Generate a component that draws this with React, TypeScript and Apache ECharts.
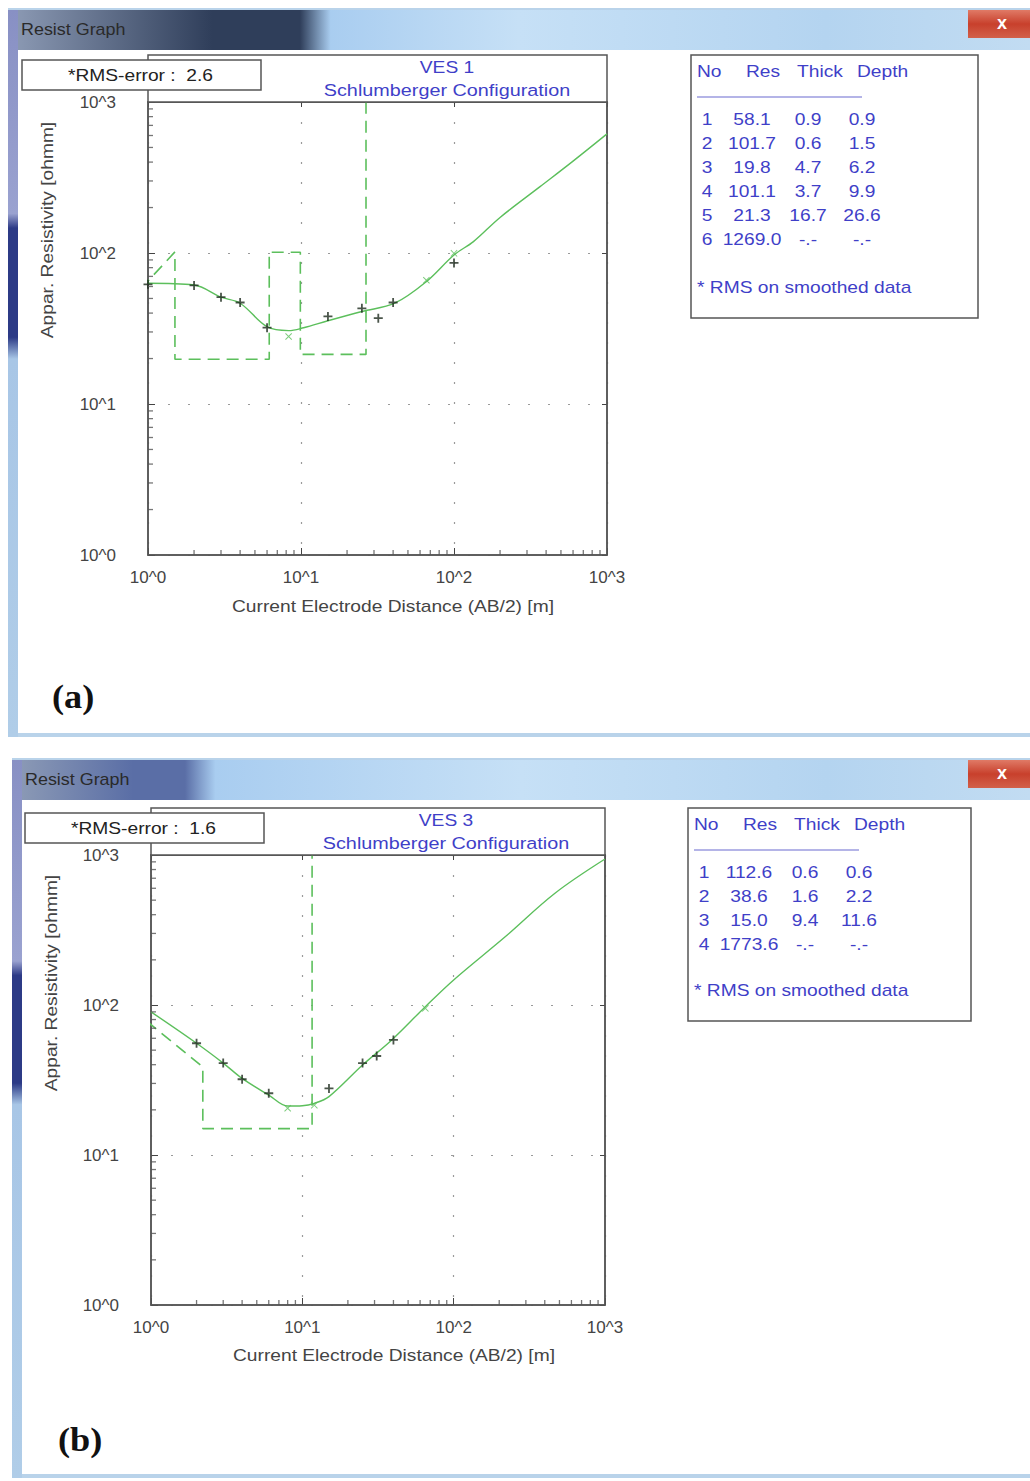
import React, { useEffect, useRef } from 'react';
import * as echarts from 'echarts';

// ---------- data ----------
const decadeLabels = ['10^0', '10^1', '10^2', '10^3'];

// VES 1 (a)
const fieldAx = [1, 2, 3, 4, 6, 15, 25, 32, 40, 100];
const fieldAy = [62, 61, 51, 47, 32, 38, 43, 37, 47, 86];
const calcAx = [1, 2, 3, 4, 6, 8.3, 10.4, 15, 25, 41, 66, 100, 134, 200, 365, 600, 1000];
const calcAy = [63, 61.4, 51, 46.5, 32.5, 30.6, 32, 35.6, 41, 46.5, 64.6, 97, 119, 172, 275, 406, 615];
const smoothAx = [8.3, 66, 100];
const smoothAy = [28, 66, 99.5];
const layerNoA = ['1', '2', '3', '4', '5', '6'];
const resA = [58.1, 101.7, 19.8, 101.1, 21.3, 1269.0];
const thickA = ['0.9', '0.6', '4.7', '3.7', '16.7', '-.-'];
const depthLabA = ['0.9', '1.5', '6.2', '9.9', '26.6', '-.-'];
const depthA = [0.9, 1.5, 6.2, 9.9, 26.6];

// VES 3 (b)
const fieldBx = [2, 3, 4, 6, 15, 25, 31, 40];
const fieldBy = [55.6, 41, 32, 25.8, 27.8, 41, 45.7, 58.5];
const calcBx = [1, 2, 3, 4, 6, 8, 10, 12, 15, 25, 39, 65, 100, 219, 467, 1000];
const calcBy = [90, 55.6, 41, 32.4, 25.1, 21.2, 21.3, 22.1, 24.5, 39.8, 58.5, 97.5, 147, 285, 556, 940];
const smoothBx = [8, 12, 65];
const smoothBy = [20.5, 21.5, 95];
const layerNoB = ['1', '2', '3', '4'];
const resB = [112.6, 38.6, 15.0, 1773.6];
const thickB = ['0.6', '1.6', '9.4', '-.-'];
const depthLabB = ['0.6', '2.2', '11.6', '-.-'];
const depthB = [0.6, 2.2, 11.6];

const FONT = '"Liberation Sans", Arial, sans-serif';
const GREEN = '#5cbf5c';
const BLUE = '#3f3fc8';
const PLUS = 'path://M4 0H6V4H10V6H6V10H4V6H0V4H4Z';
const XMARK = 'path://M0 1L1 0L5 4L9 0L10 1L6 5L10 9L9 10L5 6L1 10L0 9L4 5Z';

function zip(xs: number[], ys: number[]) {
  return xs.map((x, i) => [x, ys[i]]);
}

function buildModel(res: number[], depth: number[]) {
  const pts: number[][] = [[depth[0], res[0]]];
  for (let i = 1; i < depth.length; i++) {
    pts.push([depth[i], res[i]]);
    pts.push([depth[i], res[i + 1]]);
  }
  return pts;
}

const minorVals: number[] = [];
for (const base of [1, 10, 100]) for (let k = 2; k <= 9; k++) minorVals.push(k * base);

function txt(text: string, x: number, y: number, opts: any = {}) {
  return {
    type: 'text',
    x,
    y,
    z: opts.z ?? 20,
    rotation: opts.rotation ?? 0,
    scaleX: opts.scaleX ?? 1.2,
    silent: true,
    style: {
      text,
      fill: opts.fill ?? '#333',
      fontSize: opts.fontSize ?? 16,
      fontFamily: opts.fontFamily ?? FONT,
      fontWeight: opts.fontWeight ?? 'normal',
      align: opts.align ?? 'left',
      verticalAlign: 'middle',
    },
  };
}

function rect(x: number, y: number, w: number, h: number, style: any, z = 10) {
  return { type: 'rect', shape: { x, y, width: w, height: h }, style, z, silent: true };
}

function windowChrome(x0: number, y0: number, x1: number, y1: number, darkEnd: number, darkColor: string) {
  const els: any[] = [];
  els.push(rect(x0, y0, x1 - x0, y1 - y0, { fill: '#b9d3ea' }, -20));
  els.push(
    rect(x0, y0 + 2, x1 - x0, 40, {
      fill: new echarts.graphic.LinearGradient(0, 0, 1, 0, [
        { offset: 0, color: '#8e9cb6' },
        { offset: (darkEnd - x0) / (x1 - x0) * 0.7, color: darkColor },
        { offset: (darkEnd - x0) / (x1 - x0), color: darkColor },
        { offset: (darkEnd - x0) / (x1 - x0) + 0.03, color: '#a9cdf0' },
        { offset: 0.5, color: '#c6e0f6' },
        { offset: 0.8, color: '#b4d4f0' },
        { offset: 1, color: '#c2dcf2' },
      ]),
    }, -19)
  );
  els.push(
    rect(x0, y0 + 2, 10, y1 - y0 - 2, {
      fill: new echarts.graphic.LinearGradient(0, 0, 0, 1, [
        { offset: 0, color: '#8890c4' },
        { offset: 0.28, color: '#9aa2d0' },
        { offset: 0.3, color: '#2c3a86' },
        { offset: 0.45, color: '#2c3a86' },
        { offset: 0.48, color: '#a8c6e6' },
        { offset: 1, color: '#b0cde8' },
      ]),
    }, -18)
  );
  els.push(rect(x0 + 10, y0 + 42, x1 - x0 - 10, y1 - y0 - 46, { fill: '#ffffff' }, -17));
  els.push(
    rect(x1 - 62, y0 + 2, 62, 28, {
      fill: new echarts.graphic.LinearGradient(0, 0, 0, 1, [
        { offset: 0, color: '#e07a66' },
        { offset: 0.5, color: '#c8402c' },
        { offset: 1, color: '#d2604a' },
      ]),
    }, -16)
  );
  els.push(txt('x', x1 - 28, y0 + 15, { fill: '#ffffff', fontSize: 18, fontWeight: 'bold', align: 'center', z: -15, scaleX: 1 }));
  els.push(txt('Resist Graph', x0 + 13, y0 + 22, { fill: '#2a2a2a', fontSize: 16, z: -15, scaleX: 1.12 }));
  return els;
}

function panelText(o: any) {
  const els: any[] = [];
  els.push(rect(o.left, o.headTop, o.right - o.left, o.plotTop - o.headTop, { fill: '#ffffff', stroke: '#555', lineWidth: 1.5 }, 5));
  els.push(txt(o.ves, o.headCx, o.plotTop - 34, { fill: BLUE, align: 'center' }));
  els.push(txt('Schlumberger Configuration', o.headCx, o.plotTop - 11, { fill: BLUE, align: 'center', fontSize: 16.5 }));
  els.push(rect(o.rmsX, o.rmsY, 239, 30, { fill: '#ffffff', stroke: '#555', lineWidth: 1.5 }, 30));
  els.push(txt('*RMS-error :  ' + o.rms, o.rmsX + 46, o.rmsY + 16, { fill: '#222', z: 31 }));
  els.push(txt('Appar. Resistivity [ohmm]', o.yNameX, o.yNameY, { align: 'center', rotation: Math.PI / 2, fill: '#444' }));
  els.push(txt('Current Electrode Distance (AB/2) [m]', o.xNameX, o.xNameY, { align: 'center', fill: '#444' }));
  els.push(txt(o.letter, o.letterX, o.letterY, { fontFamily: '"Liberation Serif", "DejaVu Serif", serif', fontWeight: 'bold', fontSize: 33, fill: '#111', scaleX: 1.1 }));
  const t = o.table;
  els.push(rect(t.x, t.y, t.w, t.h, { fill: '#ffffff', stroke: '#555', lineWidth: 1.5 }, 5));
  els.push(txt('No', t.x + 6, t.y + 17, { fill: BLUE }));
  els.push(txt('Res', t.x + 55, t.y + 17, { fill: BLUE }));
  els.push(txt('Thick', t.x + 106, t.y + 17, { fill: BLUE }));
  els.push(txt('Depth', t.x + 166, t.y + 17, { fill: BLUE }));
  els.push({ type: 'line', shape: { x1: t.x + 6, y1: t.y + 42, x2: t.x + 171, y2: t.y + 42 }, style: { stroke: '#6a6ad0', lineWidth: 1.2 }, z: 20, silent: true });
  t.no.forEach((n: string, i: number) => {
    const y = t.y + 65 + i * 24;
    els.push(txt(n, t.x + 16, y, { fill: BLUE, align: 'center' }));
    els.push(txt(t.res[i].toFixed(1), t.x + 61, y, { fill: BLUE, align: 'center' }));
    els.push(txt(t.thick[i], t.x + 117, y, { fill: BLUE, align: 'center' }));
    els.push(txt(t.depth[i], t.x + 171, y, { fill: BLUE, align: 'center' }));
  });
  els.push(txt('* RMS on smoothed data', t.x + 6, t.noteY, { fill: BLUE }));
  return els;
}

function axisPair(gridIndex: number) {
  const fmt = (v: number) => decadeLabels[Math.round(Math.log10(v))] ?? '';
  const split = { show: true, lineStyle: { color: '#9a9a9a', type: [2, 18], width: 1.2 } };
  const x = [
    {
      type: 'log', logBase: 10, min: 1, max: 1000, gridIndex,
      axisLine: { show: true, lineStyle: { color: '#555', width: 1.5 } },
      axisTick: { show: true, inside: true, length: 7, lineStyle: { color: '#444' } },
      axisLabel: { formatter: fmt, fontSize: 17, color: '#444', fontFamily: FONT, margin: 14, showMinLabel: true, showMaxLabel: true },
      splitLine: split,
    },
    {
      type: 'log', logBase: 10, min: 1, max: 1000, gridIndex, position: 'top',
      axisLine: { show: true, lineStyle: { color: '#555', width: 1.5 } },
      axisTick: { show: true, inside: true, length: 5, lineStyle: { color: '#444' } },
      axisLabel: { show: false }, splitLine: { show: false },
    },
  ];
  const y = [
    {
      type: 'log', logBase: 10, min: 1, max: 1000, gridIndex,
      axisLine: { show: true, lineStyle: { color: '#555', width: 1.5 } },
      axisTick: { show: true, inside: true, length: 7, lineStyle: { color: '#444' } },
      axisLabel: { formatter: fmt, fontSize: 17, color: '#444', fontFamily: FONT, margin: 32, showMinLabel: true, showMaxLabel: true },
      splitLine: split,
    },
    {
      type: 'log', logBase: 10, min: 1, max: 1000, gridIndex, position: 'right',
      axisLine: { show: true, lineStyle: { color: '#555', width: 1.5 } },
      axisTick: { show: true, inside: true, length: 5, lineStyle: { color: '#444' } },
      axisLabel: { show: false }, splitLine: { show: false },
    },
  ];
  return { x, y };
}

function seriesFor(ax: number, calc: number[][], field: number[][], smooth: number[][], model: number[][]) {
  return [
    {
      type: 'line', xAxisIndex: ax, yAxisIndex: ax, data: model, showSymbol: false, clip: true,
      lineStyle: { color: GREEN, width: 1.6, type: [12, 7] }, z: 3, silent: true,
    },
    {
      type: 'line', xAxisIndex: ax, yAxisIndex: ax, data: calc, showSymbol: false, smooth: 0.35, clip: true,
      lineStyle: { color: GREEN, width: 1.4 }, z: 4, silent: true,
    },
    {
      type: 'scatter', xAxisIndex: ax, yAxisIndex: ax, data: smooth, symbol: XMARK, symbolSize: 7,
      itemStyle: { color: GREEN }, z: 5, silent: true,
    },
    {
      type: 'scatter', xAxisIndex: ax, yAxisIndex: ax, data: field, symbol: PLUS, symbolSize: 9,
      itemStyle: { color: '#1d2a1d' }, z: 6, silent: true,
    },
    {
      type: 'scatter', xAxisIndex: ax, yAxisIndex: ax, data: minorVals.map((v) => [v, 1]), symbol: 'rect',
      symbolSize: [1.3, 5], symbolOffset: [0, -2.5], itemStyle: { color: '#555' }, clip: false, silent: true, z: 7,
    },
    {
      type: 'scatter', xAxisIndex: ax, yAxisIndex: ax, data: minorVals.map((v) => [1, v]), symbol: 'rect',
      symbolSize: [5, 1.3], symbolOffset: [2.5, 0], itemStyle: { color: '#555' }, clip: false, silent: true, z: 7,
    },
  ];
}

export default function App() {
  const ref = useRef<HTMLDivElement>(null);
  useEffect(() => {
    document.body.style.margin = '0';
    document.body.style.overflow = 'hidden';
    if (!ref.current) return;
    const chart = echarts.init(ref.current, undefined, { renderer: 'svg' });
    const a = axisPair(0);
    const b = axisPair(1);
    const graphics = [
      ...windowChrome(8, 8, 1030, 737, 300, '#2f3e5a'),
      ...windowChrome(12, 758, 1030, 1478, 185, '#5a6ea6'),
      ...panelText({
        left: 148, right: 607, headTop: 55, plotTop: 102, headCx: 447, ves: 'VES 1', rms: '2.6',
        rmsX: 22, rmsY: 60, yNameX: 48, yNameY: 230, xNameX: 393, xNameY: 607,
        letter: '(a)', letterX: 52, letterY: 697,
        table: { x: 691, y: 55, w: 287, h: 263, no: layerNoA, res: resA, thick: thickA, depth: depthLabA, noteY: 288 },
      }),
      ...panelText({
        left: 151, right: 605, headTop: 808, plotTop: 855, headCx: 446, ves: 'VES 3', rms: '1.6',
        rmsX: 25, rmsY: 813, yNameX: 52, yNameY: 983, xNameX: 394, xNameY: 1356,
        letter: '(b)', letterX: 58, letterY: 1440,
        table: { x: 688, y: 808, w: 283, h: 213, no: layerNoB, res: resB, thick: thickB, depth: depthLabB, noteY: 991 },
      }),
    ];
    chart.setOption({
      animation: false,
      backgroundColor: '#ffffff',
      textStyle: { fontFamily: FONT },
      grid: [
        { left: 148, top: 102, width: 459, height: 453, show: true, borderColor: '#555', borderWidth: 1.5, backgroundColor: 'transparent', z: 2 },
        { left: 151, top: 855, width: 454, height: 450, show: true, borderColor: '#555', borderWidth: 1.5, backgroundColor: 'transparent', z: 2 },
      ],
      xAxis: [...a.x, ...b.x],
      yAxis: [...a.y, ...b.y],
      series: [
        ...seriesFor(0, zip(calcAx, calcAy), zip(fieldAx, fieldAy), zip(smoothAx, smoothAy), buildModel(resA, depthA)),
        ...seriesFor(2, zip(calcBx, calcBy), zip(fieldBx, fieldBy), zip(smoothBx, smoothBy), buildModel(resB, depthB)),
      ],
      graphic: graphics,
    });
    return () => chart.dispose();
  }, []);
  return <div ref={ref} style={{ width: 1030, height: 1481 }} />;
}
